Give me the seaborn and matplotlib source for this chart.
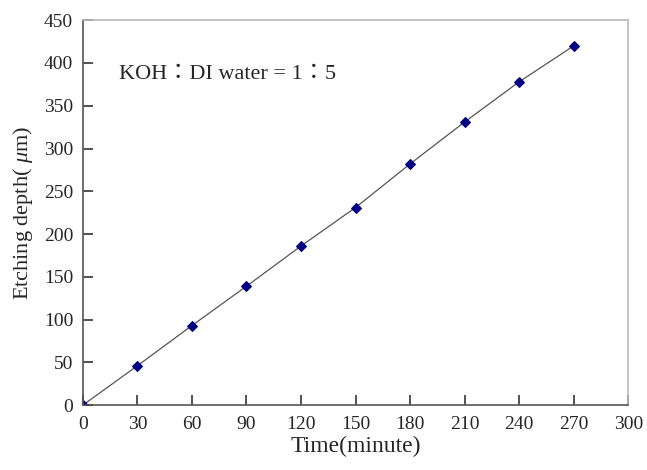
import matplotlib
matplotlib.use("Agg")
import matplotlib.pyplot as plt
import seaborn as sns
import pandas as pd

# Etching depth vs time data
time_min = [0, 30, 60, 90, 120, 150, 180, 210, 240, 270]
depth_um = [0, 46, 93, 139, 186, 231, 282, 331, 378, 420]
x_ticks = [0, 30, 60, 90, 120, 150, 180, 210, 240, 270, 300]
y_ticks = [0, 50, 100, 150, 200, 250, 300, 350, 400, 450]

df = pd.DataFrame({"Time": time_min, "Depth": depth_um})

sns.set_style("white", {"xtick.bottom": True, "ytick.left": True,
                        "xtick.direction": "in", "ytick.direction": "in"})
plt.rcParams["font.family"] = ["Liberation Serif", "DejaVu Serif"]
plt.rcParams["mathtext.fontset"] = "custom"
plt.rcParams["mathtext.rm"] = "Liberation Serif"
plt.rcParams["mathtext.it"] = "Liberation Serif:italic"
plt.rcParams["xtick.major.size"] = 7
plt.rcParams["ytick.major.size"] = 7

fig = plt.figure(figsize=(6.47, 4.70), dpi=100)
ax = fig.add_axes([0.128, 0.138, 0.843, 0.819])

sns.lineplot(data=df, x="Time", y="Depth", ax=ax, color="#555555", linewidth=0.9,
             marker="D", markersize=5, markerfacecolor="#000080",
             markeredgecolor="#000080")

ax.set_xlim(0, 300)
ax.set_ylim(0, 450)
ax.set_xticks(x_ticks)
ax.set_yticks(y_ticks)
ax.tick_params(direction="in", length=7, width=1.2, color="#333333",
               labelsize=14, bottom=True, left=True)
ax.tick_params(axis="x", pad=8)
ax.tick_params(axis="y", pad=7)

for side in ["left", "bottom"]:
    ax.spines[side].set_color("#555555")
    ax.spines[side].set_linewidth(1.2)
for side in ["top", "right"]:
    ax.spines[side].set_color("#bbbbbb")
    ax.spines[side].set_linewidth(1.2)

ax.set_xlabel("Time(minute)", fontsize=17, labelpad=2)
ax.set_ylabel(r"Etching depth( $\mathit{μ}$m)", fontsize=16, labelpad=6)

ax.text(20, 386, "KOH：DI water = 1：5", fontsize=16, va="center",
        family=["Liberation Serif", "Noto Sans CJK TC"])

fig.savefig("out.png", dpi=100)
